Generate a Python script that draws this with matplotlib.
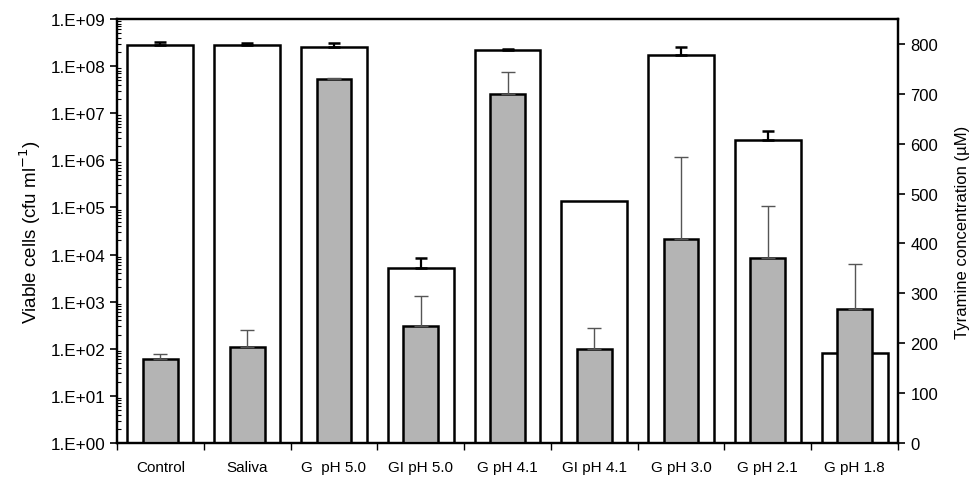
import numpy as np
import matplotlib
matplotlib.use("Agg")
from matplotlib import pyplot as plt
from matplotlib.ticker import FixedLocator, FuncFormatter, NullFormatter, LogLocator

plt.rcParams['font.family'] = ['Liberation Sans', 'DejaVu Sans']

## dados
categorias = ['Control', 'Saliva', 'G  pH 5.0', 'GI pH 5.0', 'G pH 4.1',
              'GI pH 4.1', 'G pH 3.0', 'G pH 2.1', 'G pH 1.8']

# celulas viaveis (cfu/ml), barras brancas, eixo log
celulas = [2.85e8, 2.8e8, 2.5e8, 5.2e3, 2.2e8, 1.35e5, 1.76e8, 2.7e6, 83]
celulas_sup = [3.25e8, 3.1e8, 3.1e8, 8.3e3, 2.35e8, 1.35e5, 2.5e8, 4.1e6, 83]

# tiramina (uM), barras cinzas, eixo da direita
tiramina = [168, 193, 729, 234, 699, 188, 408, 371, 269]
tiramina_sup = [178, 226, 732, 295, 743, 231, 573, 476, 359]

x = np.arange(len(categorias))
cel = np.array(celulas)
dif_cel = np.array(celulas_sup) - cel
tem_erro = dif_cel > 0  # sem barra de erro quando nao ha desvio
tir = np.array(tiramina)
dif_tir = np.array(tiramina_sup) - tir

fig = plt.figure(figsize=(9.7, 4.81), dpi=100)
ax = fig.add_axes([0.1206, 0.0769, 0.8052, 0.8815])

ax.bar(x, celulas, width=0.76, color='white', edgecolor='black', linewidth=1.8, zorder=2)
ax.errorbar(x[tem_erro], cel[tem_erro], yerr=[np.zeros(tem_erro.sum()), dif_cel[tem_erro]],
            fmt='none', ecolor='black', elinewidth=1.6, capsize=4, capthick=1.8, zorder=3)
ax.set_yscale('log')
ax.set_ylim(1, 1e9)
ax.set_xlim(-0.5, len(x) - 0.5)

ax.yaxis.set_major_locator(FixedLocator([10.0 ** k for k in range(10)]))
ax.yaxis.set_major_formatter(FuncFormatter(lambda v, p: '1.E+%02d' % int(round(np.log10(v)))))
ax.yaxis.set_minor_locator(LogLocator(base=10, subs=np.arange(2, 10), numticks=100))
ax.yaxis.set_minor_formatter(NullFormatter())
ax.tick_params(axis='y', which='major', direction='out', length=5, width=1.2, labelsize=12.3, pad=3)
ax.tick_params(axis='y', which='minor', direction='in', length=3, width=0.8)

ax.set_xticks(x)
ax.set_xticklabels(categorias)
ax.set_xticks(np.arange(len(x) + 1) - 0.5, minor=True)
ax.tick_params(axis='x', which='major', length=0, pad=12, labelsize=11)
ax.tick_params(axis='x', which='minor', direction='out', length=5, width=1)

ax.set_ylabel('Viable cells (cfu ml$^{-1}$)', fontsize=13.5, labelpad=6)

for s in ax.spines.values():
    s.set_linewidth(1.6)

ax2 = ax.twinx()
ax2.bar(x, tiramina, width=0.4, color='#b4b4b4', edgecolor='black', linewidth=1.8, zorder=2)
ax2.errorbar(x, tir, yerr=[np.zeros(len(x)), dif_tir], fmt='none', ecolor='#555555',
             elinewidth=1, capsize=5, capthick=1, zorder=3)
ax2.set_ylim(0, 850)
ax2.set_yticks(np.arange(0, 801, 100))
ax2.tick_params(axis='y', direction='out', length=5, width=1.2, labelsize=12, pad=4)
ax2.set_ylabel('Tyramine concentration (\u00b5M)', fontsize=12, labelpad=12)
for s in ax2.spines.values():
    s.set_linewidth(1.6)

fig.savefig('out.png', dpi=100)
